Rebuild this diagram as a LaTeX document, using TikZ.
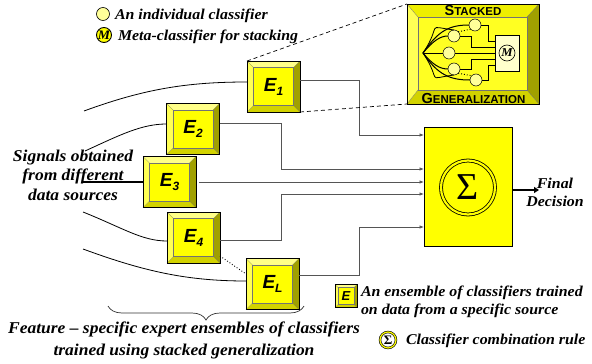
\documentclass[tikz,border=0pt]{standalone}
\usepackage{fontspec}
\usetikzlibrary{decorations.pathreplacing,arrows.meta,calc}
\newfontfamily\lblfont{Liberation Serif}[FakeStretch=1.06]
\newfontfamily\esfont{Liberation Sans}
\newfontfamily\symfont{Liberation Serif}
\definecolor{face}{HTML}{FFFF00}
\definecolor{sface}{HTML}{FFFF22}
\definecolor{btop}{HTML}{FFFF88}
\definecolor{bleft}{HTML}{FFFF55}
\definecolor{bright}{HTML}{A0A000}
\definecolor{bbot}{HTML}{D2D200}
\definecolor{stop}{HTML}{EEEE00}
\definecolor{lite}{HTML}{FFFF99}
\definecolor{mboxc}{HTML}{FFFFCC}
\definecolor{connc}{HTML}{555555}
\newcommand\esub[1]{\raisebox{-4pt}{\fontsize{12}{12}\selectfont #1}}
\newcommand\drawbevel[2]{%
  \fill[btop] (#1.north west) -- (#1.north east) -- ([shift={(-#2,#2)}]#1.north east) -- ([shift={(#2,#2)}]#1.north west) -- cycle;
  \fill[bbot] (#1.south west) -- (#1.south east) -- ([shift={(-#2,-#2)}]#1.south east) -- ([shift={(#2,-#2)}]#1.south west) -- cycle;
  \fill[bleft] (#1.north west) -- ([shift={(#2,#2)}]#1.north west) -- ([shift={(#2,-#2)}]#1.south west) -- (#1.south west) -- cycle;
  \fill[bright] (#1.north east) -- ([shift={(-#2,#2)}]#1.north east) -- ([shift={(-#2,-#2)}]#1.south east) -- (#1.south east) -- cycle;
  \draw[black!55, line width=0.3pt] ([shift={(#2,#2)}]#1.north west) rectangle ([shift={(-#2,-#2)}]#1.south east);
  \draw[black!55, line width=0.3pt] (#1.north west) -- ([shift={(#2,#2)}]#1.north west)
     (#1.north east) -- ([shift={(-#2,#2)}]#1.north east)
     (#1.south west) -- ([shift={(#2,-#2)}]#1.south west)
     (#1.south east) -- ([shift={(-#2,-#2)}]#1.south east);
  \draw[black, line width=0.6pt] (#1.north west) rectangle (#1.south east);
}
\begin{document}
\begin{tikzpicture}[x=1pt,y=-1pt,
  every node/.style={inner sep=0pt, outer sep=0pt},
  lbl/.style={font=\lblfont\bfseries\itshape\fontsize{15}{18}\selectfont},
  ebox/.style={rectangle, fill=face, minimum width=53pt, minimum height=51pt,
    font=\esfont\bfseries\itshape\fontsize{19}{19}\selectfont},
  conn/.style={draw=connc, line width=0.7pt},
  arr/.style={-{Latex[length=4.5pt,width=3.5pt]}},
  inp/.style={draw=black, line width=0.8pt},
  sc/.style={circle, draw, fill=lite, minimum size=12pt, line width=0.5pt},
  sgtext/.style={font=\esfont\bfseries},
]
\useasboundingbox (0,0) rectangle (592,364);

% ---------- expert ensemble boxes ----------
\node[ebox] (E1) at (273.5,86.5) {E\esub{1}};
\node[ebox] (E2) at (193,129) {E\esub{2}};
\node[ebox] (E3) at (169.5,182) {E\esub{3}};
\node[ebox] (E4) at (193.5,237.5) {E\esub{4}};
\node[ebox] (EL) at (272.5,284) {E\esub{L}};
\drawbevel{E1}{6.5}
\drawbevel{E2}{6.5}
\drawbevel{E3}{6.5}
\drawbevel{E4}{6.5}
\drawbevel{EL}{6.5}

% ---------- combiner ----------
\node[draw, fill=face, minimum width=88pt, minimum height=119pt, line width=0.7pt] (S) at (468,186.5) {};
\node[circle, draw, double=face, double distance=2.2pt, line width=0.8pt, minimum size=54pt,
  font=\symfont\fontsize{38}{38}\selectfont] (sig) at (468,187.5) {Σ};

\coordinate (i1) at ($(S.north west)+(0,8)$);
\coordinate (i2) at ($(S.north west)+(0,42)$);
\coordinate (i3) at ($(S.north west)+(0,55)$);
\coordinate (i4) at ($(S.north west)+(0,67)$);
\coordinate (i5) at ($(S.north west)+(0,100)$);

\draw[conn,arr] ([yshift=6.5pt]E1.east) -- ++(59,0) |- (i1);
\draw[conn,arr] ([yshift=6pt]E2.east) -- ++(62,0) |- (i2);
\draw[conn,arr] ([xshift=3pt]E3.east) -- (i3);
\draw[conn,arr] ([yshift=-2.5pt]E4.east) -- ++(61,0) |- (i4);
\draw[conn,arr] ([yshift=9pt]EL.east) -- ++(60,0) |- (i5);

% final decision
\coordinate (fd) at (539,190);
\draw[line width=1.8pt, -{Triangle[length=5pt,width=6pt]}] ([yshift=-3.5pt]S.east) -- (fd);
\node[lbl, align=center] (fdt) at (555,192) {Final\\Decision};

% ---------- inputs ----------
\coordinate (s1) at (84,111);
\coordinate (s2) at (85,151);
\coordinate (s3) at (82,182);
\coordinate (s4) at (83,212);
\coordinate (s5) at (83,249);
\draw[inp] (s1) .. controls +(60,-22) and +(-60,0) .. ([yshift=4.5pt]E1.west);
\draw[inp] (s2) .. controls +(35,-16) and +(-25,0) .. ([yshift=5pt]E2.west);
\draw[inp, line width=1.3pt] (s3) -- (E3.west);
\draw[inp] (s4) .. controls +(40,16) and +(-25,0) .. ([yshift=-3.5pt]E4.west);
\draw[inp] (s5) .. controls +(60,22) and +(-60,0) .. ([yshift=3pt]EL.west);
\draw[dotted, line width=0.9pt] ([yshift=7pt]E4.south east) -- ([yshift=10pt]EL.west);

\node[align=center, font=\lblfont\bfseries\itshape\fontsize{16.5}{19.5}\selectfont] (sigtext) at (73,175) {Signals obtained\\from different\\data sources};

% ---------- stacked generalization box ----------
\node[rectangle, fill=sface, minimum width=132pt, minimum height=100pt] (SG) at (473,54) {};
\fill[stop] (SG.north west) -- (SG.north east) -- ([shift={(-12,13)}]SG.north east) -- ([shift={(11,13)}]SG.north west) -- cycle;
\fill[bbot] (SG.south west) -- (SG.south east) -- ([shift={(-12,-14)}]SG.south east) -- ([shift={(11,-14)}]SG.south west) -- cycle;
\fill[bleft] (SG.north west) -- ([shift={(11,13)}]SG.north west) -- ([shift={(11,-14)}]SG.south west) -- (SG.south west) -- cycle;
\fill[bright] (SG.north east) -- ([shift={(-12,13)}]SG.north east) -- ([shift={(-12,-14)}]SG.south east) -- (SG.south east) -- cycle;
\draw[black!55, line width=0.3pt] ([shift={(11,13)}]SG.north west) rectangle ([shift={(-12,-14)}]SG.south east);
\draw[black!55, line width=0.3pt] (SG.north west) -- ([shift={(11,13)}]SG.north west)
  (SG.north east) -- ([shift={(-12,13)}]SG.north east)
  (SG.south west) -- ([shift={(11,-14)}]SG.south west)
  (SG.south east) -- ([shift={(-12,-14)}]SG.south east);
\draw[black, line width=0.6pt] (SG.north west) rectangle (SG.south east);
\node[sgtext] (st) at (473,10.5) {{\fontsize{14.5}{14.5}\selectfont S}{\fontsize{11.5}{11.5}\selectfont TACKED}};
\node[sgtext] (sg) at (473.5,98.5) {{\fontsize{14.5}{14.5}\selectfont G}{\fontsize{11.5}{11.5}\selectfont ENERALIZATION}};

\coordinate (F) at (423,53);
\node[sc] (c1) at (475,25) {};
\node[sc] (c2) at (454,36) {};
\node[sc] (c3) at (449,53) {};
\node[sc] (c4) at (454,69) {};
\node[sc] (c5) at (476,80) {};
\node[draw, fill=mboxc, minimum width=24pt, minimum height=36pt, line width=0.5pt] (Mb) at (507,53) {};
\node[circle, draw, fill=mboxc, minimum size=16pt, line width=0.6pt,
  font=\lblfont\bfseries\itshape\fontsize{12}{12}\selectfont] (mc) at (507,53) {M};
\draw[line width=1pt] (F) .. controls +(15,-22) and +(-20,0) .. (c1.west);
\draw[line width=1pt] (F) .. controls +(10,-12) and +(-8,0) .. (c2.west);
\draw[line width=0.8pt] (F) .. controls +(20,-30) and +(-30,-4) .. (c2.north);
\draw[line width=1pt] (F) -- (c3.west);
\draw[line width=1pt] (F) .. controls +(10,12) and +(-8,0) .. (c4.west);
\draw[line width=0.8pt] (F) .. controls +(20,30) and +(-30,4) .. (c4.south);
\draw[line width=1pt] (F) .. controls +(15,22) and +(-20,0) .. (c5.west);
\draw[line width=0.6pt] (c1.east) -- ++(7,0) |- ([yshift=12pt]Mb.west);
\draw[line width=0.6pt] (c2.east) -- ++(11,0) |- ([yshift=6pt]Mb.west);
\draw[line width=0.6pt] (c3.east) -- (Mb.west);
\draw[line width=0.6pt] (c4.east) -- ++(11,0) |- ([yshift=-6pt]Mb.west);
\draw[line width=0.6pt] (c5.east) -- ++(6,0) |- ([yshift=-12pt]Mb.west);
\draw[dotted, line width=0.9pt] (c2.north east) -- (c1.south west);
\draw[dotted, line width=0.9pt] (c4.south east) -- (c5.north west);

\draw[dashed, dash pattern=on 4pt off 3pt, line width=0.7pt] (E1.north west) -- (SG.north west);
\draw[dashed, dash pattern=on 4pt off 3pt, line width=0.7pt] (E1.south east) -- (SG.south west);

% ---------- legends ----------
\node[circle, draw, fill=lite, minimum size=13pt, line width=0.6pt] (l1) at (103,14) {};
\node[lbl, anchor=west] (l1t) at (115,15.5) {An individual classifier};
\node[circle, draw, fill=face, minimum size=15pt, line width=0.9pt,
  font=\lblfont\bfseries\itshape\fontsize{13}{13}\selectfont] (l2) at (104,35) {M};
\node[lbl, anchor=west] (l2t) at (118,36.5) {Meta-classifier for stacking};

\node[rectangle, fill=face, minimum width=22pt, minimum height=23pt,
  font=\esfont\bfseries\itshape\fontsize{13}{13}\selectfont] (le) at (346,296) {E};
\drawbevel{le}{3}
\node[lbl, anchor=west, align=left] (let) at (361,301.5) {An ensemble of classifiers trained\\on data from a specific source};

\node[circle, draw, double=face, double distance=1.2pt, line width=0.6pt, minimum size=16pt,
  font=\symfont\bfseries\fontsize{13}{13}\selectfont] (ls) at (388,340) {Σ};
\node[lbl, anchor=west] (lst) at (406,341) {Classifier combination rule};

% ---------- brace ----------
\draw[decorate, decoration={brace, amplitude=14pt, mirror}, line width=0.7pt, draw=black!80]
  (108,306) -- (304,306);
\node[align=center, font=\lblfont\bfseries\itshape\fontsize{16.5}{22}\selectfont] (bt) at (184,340.5)
  {Feature – specific expert ensembles of classifiers\\trained using stacked generalization};
\end{tikzpicture}
\end{document}
